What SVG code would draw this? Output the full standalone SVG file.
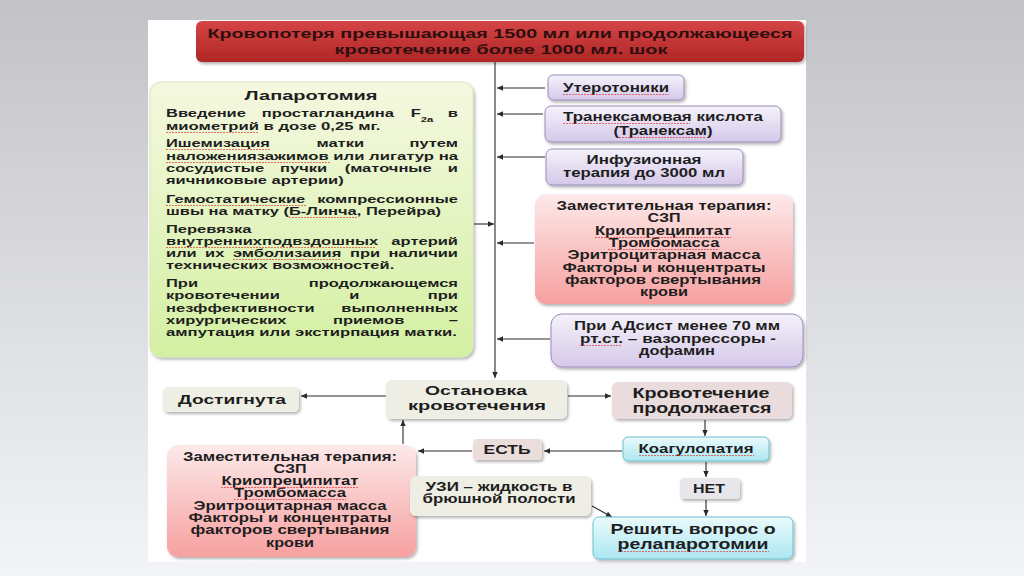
<svg xmlns="http://www.w3.org/2000/svg" width="1024" height="576" viewBox="0 0 1024 576">
<defs>
<linearGradient id="bg" x1="0" y1="0" x2="0" y2="1"><stop offset="0" stop-color="#c3c3c7"/><stop offset="1" stop-color="#f2f4f8"/></linearGradient>
<linearGradient id="gRed" x1="0" y1="0" x2="0" y2="1"><stop offset="0" stop-color="#d54545"/><stop offset="1" stop-color="#b02626"/></linearGradient>
<linearGradient id="gGreen" x1="0" y1="0" x2="0" y2="1"><stop offset="0" stop-color="#f5f8e0"/><stop offset="1" stop-color="#d3f0a2"/></linearGradient>
<linearGradient id="gLav" x1="0" y1="0" x2="0" y2="1"><stop offset="0" stop-color="#f5f2fa"/><stop offset="1" stop-color="#d5c8ea"/></linearGradient>
<linearGradient id="gPink" x1="0" y1="0" x2="0" y2="1"><stop offset="0" stop-color="#fde9e9"/><stop offset="1" stop-color="#f7a0a0"/></linearGradient>
<linearGradient id="gCyan" x1="0" y1="0" x2="0" y2="1"><stop offset="0" stop-color="#eafafc"/><stop offset="1" stop-color="#ace7f2"/></linearGradient>
<filter id="sh" x="-10%" y="-10%" width="125%" height="135%"><feDropShadow dx="1.5" dy="2" stdDeviation="1.5" flood-color="#000" flood-opacity="0.3"/></filter>
<marker id="ah" viewBox="0 0 10 10" refX="10" refY="5" markerWidth="7" markerHeight="6" orient="auto" markerUnits="userSpaceOnUse"><path d="M0,0.5 L10,5 L0,9.5 z" fill="#2a2a2a"/></marker>
<style>
text{font-family:"Liberation Sans",Arial,sans-serif;font-weight:bold;fill:#1e1e1e}
.c{text-anchor:middle}
.f11{font-size:11px}
.f12{font-size:12px}
.f13{font-size:13.5px}
.f14{font-size:14.5px}
.hd{fill:#2e0e0e}
.ln{stroke:#2a2a2a;stroke-width:1.1;fill:none}
.ul{stroke:#dd3b3b;stroke-width:0.9;stroke-dasharray:2 1;fill:none;opacity:0.8}
.lav{fill:url(#gLav);stroke:#9a8cbc;stroke-width:1}
.pink{fill:url(#gPink)}
.cyan{fill:url(#gCyan);stroke:#6cbfd0;stroke-width:1}
.beige{fill:#eeeee4}
</style>
</defs>
<rect width="1024" height="576" fill="url(#bg)"/>
<rect x="148" y="20" width="658" height="542" fill="#ffffff"/>

<g id="connectors">
<path class="ln" d="M495,62 V378" marker-end="url(#ah)"/>
<path class="ln" d="M545,88 H497" marker-end="url(#ah)"/>
<path class="ln" d="M543,114 H497" marker-end="url(#ah)"/>
<path class="ln" d="M545,157 H497" marker-end="url(#ah)"/>
<path class="ln" d="M474,224 H494" marker-end="url(#ah)"/>
<path class="ln" d="M534,243 H497" marker-end="url(#ah)"/>
<path class="ln" d="M550,339 H497" marker-end="url(#ah)"/>
<path class="ln" d="M386,396 H301" marker-end="url(#ah)"/>
<path class="ln" d="M568,396 H611" marker-end="url(#ah)"/>
<path class="ln" d="M705,420 V436" marker-end="url(#ah)"/>
<path class="ln" d="M622,451 H544" marker-end="url(#ah)"/>
<path class="ln" d="M472,451 H418" marker-end="url(#ah)"/>
<path class="ln" d="M403,444 V420" marker-end="url(#ah)"/>
<path class="ln" d="M706,462 V477" marker-end="url(#ah)"/>
<path class="ln" d="M706,500 V516" marker-end="url(#ah)"/>
<path class="ln" d="M592,506 L612,517" marker-end="url(#ah)"/>
</g>

<g id="n-header">
<rect x="196" y="21" width="608" height="41" rx="6" fill="url(#gRed)" filter="url(#sh)"/>
<text class="c f13 hd" x="500" y="38" textLength="585" lengthAdjust="spacingAndGlyphs">Кровопотеря превышающая 1500 мл или продолжающееся</text>
<text class="c f13 hd" x="501" y="54" textLength="333" lengthAdjust="spacingAndGlyphs">кровотечение более 1000 мл. шок</text>
</g>

<g id="n-laparotomy">
<rect x="150" y="82" width="323" height="275" rx="11" fill="url(#gGreen)" stroke="#d6e8b8" stroke-width="1" filter="url(#sh)"/>
<text class="c f13" x="311" y="100" textLength="133" lengthAdjust="spacingAndGlyphs">Лапаротомия</text>
<g transform="translate(166 0) scale(1.5 1)" class="f11">
<text y="117"><tspan x="0">Введение</tspan><tspan x="63.9">простагландина</tspan><tspan x="163.2">F<tspan font-size="7.5" baseline-shift="sub">2a</tspan></tspan><tspan x="194.67" text-anchor="end">в</tspan></text>
<text x="0" y="130" textLength="143" lengthAdjust="spacingAndGlyphs">миометрий в дозе 0,25 мг.</text>
<text y="147"><tspan x="0">Ишемизация</tspan><tspan x="100.3">матки</tspan><tspan x="194.67" text-anchor="end">путем</tspan></text>
<text x="0" y="160" textLength="194.67" lengthAdjust="spacingAndGlyphs">наложениязажимов или лигатур на</text>
<text y="172"><tspan x="0">сосудистые</tspan><tspan x="76">пучки</tspan><tspan x="119.1">(маточные</tspan><tspan x="194.67" text-anchor="end">и</tspan></text>
<text x="0" y="184">яичниковые артерии)</text>
<text y="203"><tspan x="0">Гемостатические</tspan><tspan x="194.67" text-anchor="end">компрессионные</tspan></text>
<text x="0" y="215">швы на матку (Б-Линча, Перейра)</text>
<text x="0" y="233">Перевязка</text>
<text y="245"><tspan x="0">внутреннихподвздошных</tspan><tspan x="194.67" text-anchor="end">артерий</tspan></text>
<text y="257"><tspan x="0">или</tspan><tspan x="26">их</tspan><tspan x="44.6">эмболизаиия</tspan><tspan x="122.7">при</tspan><tspan x="194.67" text-anchor="end">наличии</tspan></text>
<text x="0" y="269">технических возможностей.</text>
<text y="287"><tspan x="0">При</tspan><tspan x="194.67" text-anchor="end">продолжающемся</tspan></text>
<text y="299"><tspan x="0">кровотечении</tspan><tspan x="122.1">и</tspan><tspan x="194.67" text-anchor="end">при</tspan></text>
<text y="312"><tspan x="0">незффективности</tspan><tspan x="194.67" text-anchor="end">выполненных</tspan></text>
<text y="324"><tspan x="0">хирургических</tspan><tspan x="111.3">приемов</tspan><tspan x="194.67" text-anchor="end">–</tspan></text>
<text x="0" y="336" textLength="194" lengthAdjust="spacingAndGlyphs">ампутация или экстирпация матки.</text>
</g>
</g>

<g id="n-uterotonics">
<rect x="548" y="75" width="136" height="25" rx="5" class="lav" filter="url(#sh)"/>
<text class="c f12" x="616" y="92" textLength="106" lengthAdjust="spacingAndGlyphs">Утеротоники</text>
</g>

<g id="n-tranexam">
<rect x="545" y="106" width="236" height="36" rx="6" class="lav" filter="url(#sh)"/>
<text class="c f12" x="663" y="121" textLength="200" lengthAdjust="spacingAndGlyphs">Транексамовая кислота</text>
<text class="c f12" x="663" y="135" textLength="99" lengthAdjust="spacingAndGlyphs">(Транексам)</text>
</g>

<g id="n-infusion">
<rect x="546" y="149" width="197" height="36" rx="6" class="lav" filter="url(#sh)"/>
<text class="c f12" x="644" y="164" textLength="115" lengthAdjust="spacingAndGlyphs">Инфузионная</text>
<text class="c f12" x="644" y="177" textLength="162" lengthAdjust="spacingAndGlyphs">терапия до 3000 мл</text>
</g>

<g id="n-replacement-1">
<rect x="535" y="194" width="258" height="110" rx="11" class="pink" filter="url(#sh)"/>
<text class="c f12" x="664" y="210" textLength="215" lengthAdjust="spacingAndGlyphs">Заместительная терапия:</text>
<text class="c f12" x="664" y="222" textLength="33" lengthAdjust="spacingAndGlyphs">СЗП</text>
<text class="c f12" x="663" y="235" textLength="136" lengthAdjust="spacingAndGlyphs">Криопреципитат</text>
<text class="c f12" x="664" y="247" textLength="111" lengthAdjust="spacingAndGlyphs">Тромбомасса</text>
<text class="c f12" x="664" y="259" textLength="193" lengthAdjust="spacingAndGlyphs">Эритроцитарная масса</text>
<text class="c f12" x="664" y="272" textLength="203" lengthAdjust="spacingAndGlyphs">Факторы и концентраты</text>
<text class="c f12" x="663" y="284" textLength="196" lengthAdjust="spacingAndGlyphs">факторов свертывания</text>
<text class="c f12" x="664" y="296" textLength="48" lengthAdjust="spacingAndGlyphs">крови</text>
</g>

<g id="n-vasopressors">
<rect x="551" y="314" width="252" height="53" rx="11" class="lav" stroke="#85779f" filter="url(#sh)"/>
<text class="c f12" x="677" y="330" textLength="206" lengthAdjust="spacingAndGlyphs">При АДсист менее 70 мм</text>
<text class="c f12" x="678" y="343" textLength="196" lengthAdjust="spacingAndGlyphs">рт.ст. – вазопрессоры -</text>
<text class="c f12" x="677" y="355" textLength="76" lengthAdjust="spacingAndGlyphs">дофамин</text>
</g>

<g id="n-stop">
<rect x="386" y="380" width="181" height="39" rx="6" class="beige" filter="url(#sh)"/>
<text class="c f13" x="476" y="395" textLength="102" lengthAdjust="spacingAndGlyphs">Остановка</text>
<text class="c f13" x="477" y="410" textLength="138" lengthAdjust="spacingAndGlyphs">кровотечения</text>
</g>

<g id="n-achieved">
<rect x="163" y="387" width="136" height="25" rx="5" class="beige" filter="url(#sh)"/>
<text class="c f13" x="232" y="404" textLength="108" lengthAdjust="spacingAndGlyphs">Достигнута</text>
</g>

<g id="n-continues">
<rect x="612" y="382" width="180" height="37" rx="6" fill="#eadcdc" filter="url(#sh)"/>
<text class="c f14" x="701" y="398" textLength="137" lengthAdjust="spacingAndGlyphs">Кровотечение</text>
<text class="c f14" x="702" y="413" textLength="139" lengthAdjust="spacingAndGlyphs">продолжается</text>
</g>

<g id="n-coagulopathy">
<rect x="623" y="437" width="146" height="24" rx="5" class="cyan" filter="url(#sh)"/>
<text class="c f12" x="696" y="453" textLength="115" lengthAdjust="spacingAndGlyphs">Коагулопатия</text>
</g>

<g id="n-yes">
<rect x="473" y="439" width="69" height="21" rx="4" fill="#ecdddd" filter="url(#sh)"/>
<text class="c f12" x="507" y="454" textLength="47" lengthAdjust="spacingAndGlyphs">ЕСТЬ</text>
</g>

<g id="n-no">
<rect x="680" y="478" width="60" height="21" rx="4" fill="#e6e6eb" filter="url(#sh)"/>
<text class="c f12" x="709" y="493" textLength="32" lengthAdjust="spacingAndGlyphs">НЕТ</text>
</g>

<g id="n-replacement-2">
<rect x="167" y="445" width="249" height="112" rx="11" class="pink" filter="url(#sh)"/>
<text class="c f12" x="290" y="461" textLength="214" lengthAdjust="spacingAndGlyphs">Заместительная терапия:</text>
<text class="c f12" x="290" y="473" textLength="33" lengthAdjust="spacingAndGlyphs">СЗП</text>
<text class="c f12" x="290" y="485" textLength="137" lengthAdjust="spacingAndGlyphs">Криопреципитат</text>
<text class="c f12" x="290" y="497" textLength="112" lengthAdjust="spacingAndGlyphs">Тромбомасса</text>
<text class="c f12" x="290" y="510" textLength="193" lengthAdjust="spacingAndGlyphs">Эритроцитарная масса</text>
<text class="c f12" x="290" y="522" textLength="203" lengthAdjust="spacingAndGlyphs">Факторы и концентраты</text>
<text class="c f12" x="290" y="534" textLength="199" lengthAdjust="spacingAndGlyphs">факторов свертывания</text>
<text class="c f12" x="290" y="547" textLength="48" lengthAdjust="spacingAndGlyphs">крови</text>
</g>

<g id="n-ultrasound">
<rect x="410" y="476" width="181" height="40" rx="6" class="beige" filter="url(#sh)"/>
<text class="c f12" x="499" y="491" textLength="147" lengthAdjust="spacingAndGlyphs">УЗИ – жидкость в</text>
<text class="c f12" x="499" y="503" textLength="153" lengthAdjust="spacingAndGlyphs">брюшной полости</text>
</g>

<g id="n-relaparotomy">
<rect x="593" y="517" width="200" height="42" rx="6" class="cyan" filter="url(#sh)"/>
<text class="c f14" x="693" y="534" textLength="165" lengthAdjust="spacingAndGlyphs">Решить вопрос о</text>
<text class="c f14" x="693" y="549" textLength="151" lengthAdjust="spacingAndGlyphs">релапаротомии</text>
</g>

<g id="spellmarks">
<path class="ul" d="M166,132.5 H258 M166,149.5 H271 M166,162.5 H330 M166,205.5 H307 M289,217.5 H357 M166,247.5 H376 M233,259.5 H341"/>
<path class="ul" d="M563,94.5 H669 M563,123.5 H690 M619,137.5 H706 M595,237.5 H731 M608,249.5 H719 M580,345.5 H622 M639,455.5 H754 M618,551.5 H769 M221,487.5 H358 M234,499.5 H346"/>
</g>
</svg>
